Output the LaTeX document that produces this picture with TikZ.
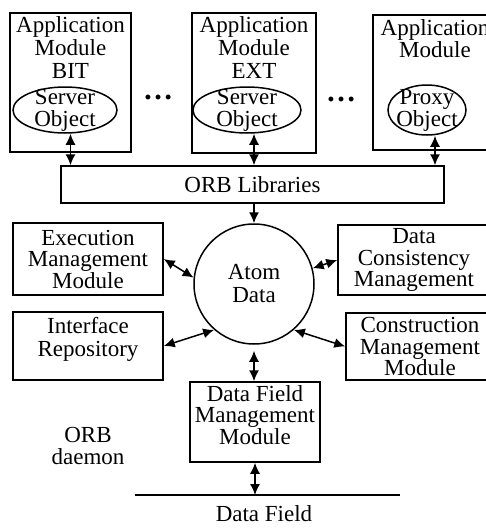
\documentclass[tikz,border=0pt]{standalone}
\usepackage{fontspec}
\setmainfont{Liberation Serif}
\usetikzlibrary{arrows.meta,shapes.geometric}
\begin{document}
\begin{tikzpicture}[x=1pt,y=-1pt,
  font=\fontsize{23}{21.5}\selectfont,
  box/.style={draw,line width=1.5pt,rectangle,inner sep=0pt},
  obj/.style={draw,line width=1.5pt,ellipse,inner sep=0pt},
  txt/.style={align=center,inner sep=0pt},
  dbl/.style={line width=1.5pt,{Latex[length=11pt,width=10pt]}-{Latex[length=11pt,width=10pt]}},
  one/.style={line width=1.5pt,-{Latex[length=11pt,width=10pt]}}]
\useasboundingbox (0,0) rectangle (486,531);
\clip (0,0) rectangle (486,531);
% application modules
\node[box,minimum width=121,minimum height=139] (app1) at (70.5,82.5) {};
\node[box,minimum width=124,minimum height=140] (app2) at (254,83) {};
\node[box,minimum width=124,minimum height=135] (app3) at (435,82.5) {};
\node[txt,anchor=north,font=\fontsize{23}{23}\selectfont] (t1) at ([yshift=-4.3pt]app1.north) {Application\\Module\\BIT};
\node[txt,anchor=north,font=\fontsize{23}{23}\selectfont] (t2) at ([yshift=-4.3pt]app2.north) {Application\\Module\\EXT};
\node[txt,anchor=north,font=\fontsize{23}{22}\selectfont] (t3) at ([yshift=-5.3pt]app3.north) {Application\\Module};
\node[obj,minimum width=104,minimum height=46,label={[txt,font=\fontsize{23}{22}\selectfont]center:Server\\Object}] (o1) at (65,110) {};
\node[obj,minimum width=108,minimum height=46,label={[txt,font=\fontsize{23}{22}\selectfont]center:Server\\Object}] (o2) at (247,110) {};
\node[obj,minimum width=78,minimum height=50,label={[txt,font=\fontsize{23}{22}\selectfont]center:Proxy\\Object}] (o3) at (427,110) {};
\node[font=\fontsize{30}{30}\selectfont] (d1) at (158,97) {\textbf{\dots}};
\node[font=\fontsize{30}{30}\selectfont] (d2) at (341,99) {\textbf{\dots}};
% ORB libraries
\node[box,minimum width=383,minimum height=37] (orb) at (252.5,184.5) {ORB Libraries};
\draw[dbl] (app1.south |- o1.south) -- (app1.south |- orb.north);
\draw[dbl] (app2.south |- o2.south) -- (app2.south |- orb.north);
\draw[dbl] (app3.south |- o3.south) -- (app3.south |- orb.north);
% atom data
\node[draw,circle,line width=1.5pt,minimum size=120,txt,font=\fontsize{23}{23}\selectfont] (atom) at (254,284) {Atom\\Data};
\draw[one] (orb.south -| atom.north) -- (atom.north);
% side modules
\node[box,txt,minimum width=150,minimum height=72] (exec) at (88,259) {Execution\\Management\\Module};
\node[box,minimum width=150,minimum height=68,label={[txt,yshift=7pt,font=\fontsize{23}{23}\selectfont]center:Interface\\Repository}] (iface) at (88,346) {};
\node[box,txt,minimum width=152,minimum height=70] (dcm) at (414,260) {Data\\Consistency\\Management};
\node[box,txt,minimum width=148,minimum height=67,font=\fontsize{23}{21.5}\selectfont] (cmm) at (420,346.5) {Construction\\Management\\Module};
\node[box,minimum width=130,minimum height=80,label={[txt,yshift=7pt,font=\fontsize{23}{21.5}\selectfont]center:Data Field\\Management\\Module}] (dfm) at (255,422) {};
\draw[dbl] (exec.east) -- (atom.174);
\draw[dbl] (iface.east) -- (atom.229);
\draw[dbl] (dcm.west) -- (atom.15);
\draw[dbl] (cmm.west) -- (atom.311);
\draw[dbl,shorten <=6pt] (atom.south) -- (atom.south |- dfm.north);
% data field
\coordinate (fl) at (135,495);
\coordinate (fr) at (400,495);
\draw[line width=1.5pt] (fl) -- (fr);
\draw[dbl] (dfm.south) -- (dfm.south |- fl);
\node (df) at (264,514) {Data Field};
\node[txt,font=\fontsize{23}{21.5}\selectfont] (orbd) at (88,446) {ORB\\daemon};
\end{tikzpicture}
\end{document}
